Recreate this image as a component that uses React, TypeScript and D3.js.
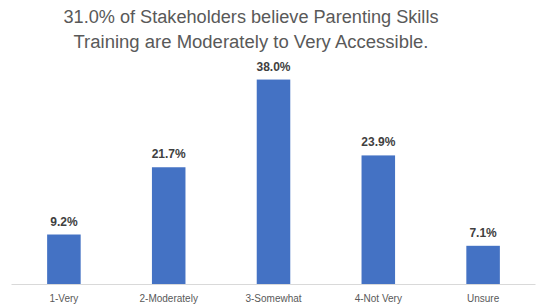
import React from "react";
import * as d3 from "d3";

const categories = ["1-Very", "2-Moderately", "3-Somewhat", "4-Not Very", "Unsure"];
const values = [9.2, 21.7, 38.0, 23.9, 7.1];
const titleLines = [
  "31.0% of Stakeholders believe Parenting Skills",
  "Training are Moderately to Very Accessible.",
];

export default function App() {
  const W = 542, H = 306;
  const x = d3.scaleBand<string>().domain(categories).range([11.5, 535.5]).paddingInner(0.68).paddingOuter(0.34);
  const y = d3.scaleLinear().domain([0, 40]).range([284, 68.8]);
  const font = "'Liberation Sans', Arial, sans-serif";
  return (
    <svg width={W} height={H} style={{ position: "absolute", left: 0, top: 0, background: "#fff" }}>
      {titleLines.map((t, i) => (
        <text key={i} x={251} y={23 + i * 25} textAnchor="middle" fontFamily={font} fontSize={18}
          fill="#595959" textLength={i === 0 ? 375 : 355} lengthAdjust="spacingAndGlyphs">{t}</text>
      ))}
      {categories.map((c, i) => {
        const bx = x(c)!;
        const bw = x.bandwidth();
        return (
          <g key={c}>
            <rect x={bx} y={y(values[i])} width={bw} height={y(0) - y(values[i])} fill="#4472C4" />
            <text x={bx + bw / 2} y={y(values[i]) - 9} textAnchor="middle" fontFamily={font}
              fontSize={12} fontWeight="bold" fill="#404040">{values[i].toFixed(1)}%</text>
            <text x={bx + bw / 2} y={302} textAnchor="middle" fontFamily={font} fontSize={10}
              fill="#595959">{c}</text>
          </g>
        );
      })}
      <line x1={11.5} x2={535.5} y1={284.5} y2={284.5} stroke="#D9D9D9" strokeWidth={1} />
    </svg>
  );
}
